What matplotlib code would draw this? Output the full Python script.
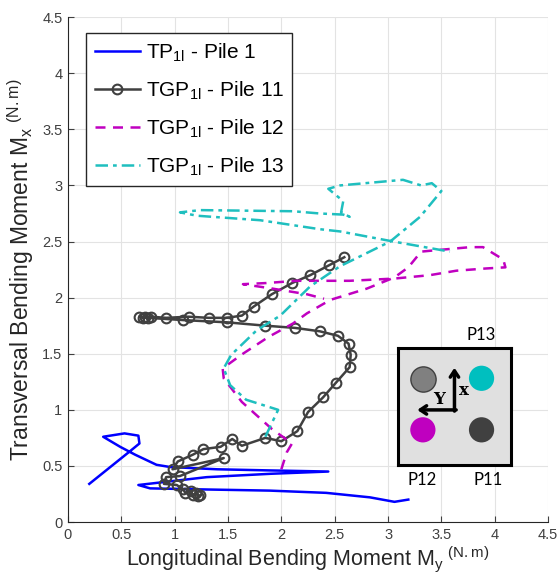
"""
Bending moment trajectories of the piles, Mx against My.
"""

from matplotlib import pyplot as plt

plt.rcParams['font.family'] = ['Liberation Sans', 'DejaVu Sans']
plt.rcParams['mathtext.default'] = 'regular'

# TP1l - pile 1 (blue)
p1_x = [0.20, 0.58, 0.67, 0.66, 0.53, 0.33, 0.49, 0.63, 0.83, 0.96, 1.40, 1.89, 2.44,
        1.90, 1.30, 0.66, 0.77, 1.30, 1.89, 2.42, 2.83, 3.06, 3.19]
p1_y = [0.34, 0.63, 0.70, 0.77, 0.79, 0.76, 0.67, 0.60, 0.51, 0.49, 0.47, 0.46, 0.45,
        0.43, 0.40, 0.33, 0.30, 0.29, 0.28, 0.26, 0.22, 0.18, 0.20]

# TGP1l - pile 11 (grey with circles)
p11_x = [2.59, 2.45, 2.27, 2.10, 1.91, 1.74, 1.63, 1.49, 1.32, 1.13, 0.92, 0.78, 0.72,
         0.67, 0.70, 0.75, 1.08, 1.49, 1.85, 2.13, 2.36, 2.53, 2.63, 2.65, 2.64, 2.51,
         2.39, 2.25, 2.15, 2.00, 1.85, 1.63, 1.54, 1.43, 1.27, 1.17, 1.03, 0.98, 1.46,
         1.05, 0.92, 0.90, 1.02, 1.08, 1.10, 1.15, 1.17, 1.20, 1.22, 1.24]
p11_y = [2.36, 2.29, 2.20, 2.13, 2.03, 1.92, 1.84, 1.82, 1.82, 1.83, 1.82, 1.83, 1.83,
         1.83, 1.82, 1.82, 1.80, 1.78, 1.75, 1.73, 1.70, 1.66, 1.59, 1.49, 1.38, 1.24,
         1.11, 0.98, 0.81, 0.72, 0.75, 0.68, 0.74, 0.67, 0.65, 0.60, 0.54, 0.47, 0.57,
         0.41, 0.40, 0.34, 0.33, 0.29, 0.26, 0.28, 0.24, 0.26, 0.23, 0.24]

# TGP1l - pile 12 (magenta dashed)
p12_x = [2.00, 2.05, 2.10, 1.91, 1.63, 1.46, 1.45, 1.64, 1.88, 2.11, 2.24, 2.46, 2.80,
         3.06, 3.19, 3.31, 3.42, 3.77, 3.89, 4.08, 4.10, 3.92, 3.64, 3.39, 3.06, 2.64,
         2.14, 1.86, 1.64, 1.92, 2.24, 2.40]
p12_y = [0.47, 0.62, 0.70, 0.83, 1.07, 1.28, 1.37, 1.50, 1.65, 1.77, 1.86, 1.98, 2.08,
         2.18, 2.27, 2.41, 2.42, 2.45, 2.45, 2.34, 2.27, 2.26, 2.24, 2.20, 2.17, 2.15,
         2.15, 2.13, 2.12, 2.08, 2.03, 1.99]

# TGP1l - pile 13 (cyan dash-dot)
p13_x = [1.85, 1.97, 1.67, 1.52, 1.46, 1.53, 1.77, 1.99, 2.27, 2.55, 3.02, 3.30, 3.50,
         3.41, 3.31, 3.14, 2.55, 2.44, 2.58, 2.56, 2.64, 2.58, 2.36, 2.11, 1.24, 1.05,
         1.21, 1.80, 2.36, 2.55, 3.05, 3.58]
p13_y = [0.76, 1.00, 1.09, 1.22, 1.37, 1.49, 1.71, 1.84, 2.10, 2.28, 2.50, 2.72, 2.95,
         3.02, 3.00, 3.05, 3.00, 2.97, 2.86, 2.76, 2.72, 2.74, 2.75, 2.77, 2.78, 2.76,
         2.73, 2.69, 2.61, 2.59, 2.50, 2.41]

ticks = [0, 0.5, 1, 1.5, 2, 2.5, 3, 3.5, 4, 4.5]
tick_labels = ['0', '0.5', '1', '1.5', '2', '2.5', '3', '3.5', '4', '4.5']

fig = plt.figure(figsize=(5.57, 5.79), dpi=100)
ax = fig.add_axes([0.122, 0.0984, 0.862, 0.872])

ax.plot(p1_x, p1_y, '-', color='#0000ff', lw=1.8, label=r'TP$_{1l}$ - Pile 1')
ax.plot(p11_x, p11_y, '-', color='#404040', lw=1.8, marker='o', markersize=7,
        markerfacecolor='none', markeredgewidth=1.5, label=r'TGP$_{1l}$ - Pile 11')
ax.plot(p12_x, p12_y, '--', color='#c000c0', lw=1.8, dashes=(4, 3), label=r'TGP$_{1l}$ - Pile 12')
ax.plot(p13_x, p13_y, '-.', color='#1fbfbf', lw=1.8, dashes=(5, 2, 1.5, 2), label=r'TGP$_{1l}$ - Pile 13')

ax.set_xlim(0, 4.5)
ax.set_ylim(0, 4.5)
ax.set_xticks(ticks)
ax.set_xticklabels(tick_labels)
ax.set_yticks(ticks)
ax.set_yticklabels(tick_labels)
ax.tick_params(direction='in', length=4, labelsize=10.5, colors='#404040', pad=4)
ax.grid(True, color='#e3e3e3', lw=0.8)
ax.set_axisbelow(True)
for side in ['top', 'right']:
    ax.spines[side].set_visible(False)
for side in ['left', 'bottom']:
    ax.spines[side].set_color('#262626')

ax.set_xlabel(r'Longitudinal Bending Moment M$_y$$^{\ (N.m)}$', fontsize=15.5, color='#262626', labelpad=2)
ax.set_ylabel(r'Transversal Bending Moment M$_x$$^{\ (N.m)}$', fontsize=16.5, color='#262626', labelpad=4)

leg = ax.legend(loc='upper left', bbox_to_anchor=(0.038, 0.968), fontsize=15, fancybox=False,
                framealpha=1, edgecolor='#262626', handlelength=2.2, handletextpad=0.25,
                labelspacing=0.75, borderpad=0.4, borderaxespad=0)
leg.get_frame().set_linewidth(1.0)

# pile layout sketch, bottom right
ax_in = ax.inset_axes([0.6875, 0.113, 0.235, 0.232])
ax_in.set_facecolor('#e0e0e0')
ax_in.set_xlim(0, 1)
ax_in.set_ylim(0, 1)
ax_in.set_xticks([])
ax_in.set_yticks([])
for side in ax_in.spines.values():
    side.set_linewidth(2.2)
    side.set_color('black')

ax_in.scatter([0.22], [0.73], s=330, color='#808080', edgecolor='#404040', linewidth=1)
ax_in.scatter([0.74], [0.74], s=330, color='#00bfbf', edgecolor='none')
ax_in.scatter([0.22], [0.30], s=330, color='#bf00bf', edgecolor='none')
ax_in.scatter([0.74], [0.30], s=330, color='#404040', edgecolor='none')

ax_in.annotate('', xy=(0.50, 0.83), xytext=(0.50, 0.46),
               arrowprops=dict(arrowstyle='->,head_width=0.3,head_length=0.45', lw=2.5, color='black',
                               shrinkA=0, shrinkB=0))
ax_in.annotate('', xy=(0.17, 0.47), xytext=(0.515, 0.47),
               arrowprops=dict(arrowstyle='->,head_width=0.3,head_length=0.45', lw=2.5, color='black',
                               shrinkA=0, shrinkB=0))
ax_in.text(0.58, 0.64, 'x', fontsize=12, fontweight='bold', family='DejaVu Serif', ha='center', va='center')
ax_in.text(0.36, 0.56, 'Y', fontsize=12, fontweight='bold', family='DejaVu Serif', ha='center', va='center')

ax_in.text(0.74, 1.11, 'P13', fontsize=12, family='Lato', ha='center', va='center', clip_on=False)
ax_in.text(0.21, -0.13, 'P12', fontsize=12, family='Lato', ha='center', va='center', clip_on=False)
ax_in.text(0.80, -0.13, 'P11', fontsize=12, family='Lato', ha='center', va='center', clip_on=False)

plt.savefig('out.png', dpi=100)
